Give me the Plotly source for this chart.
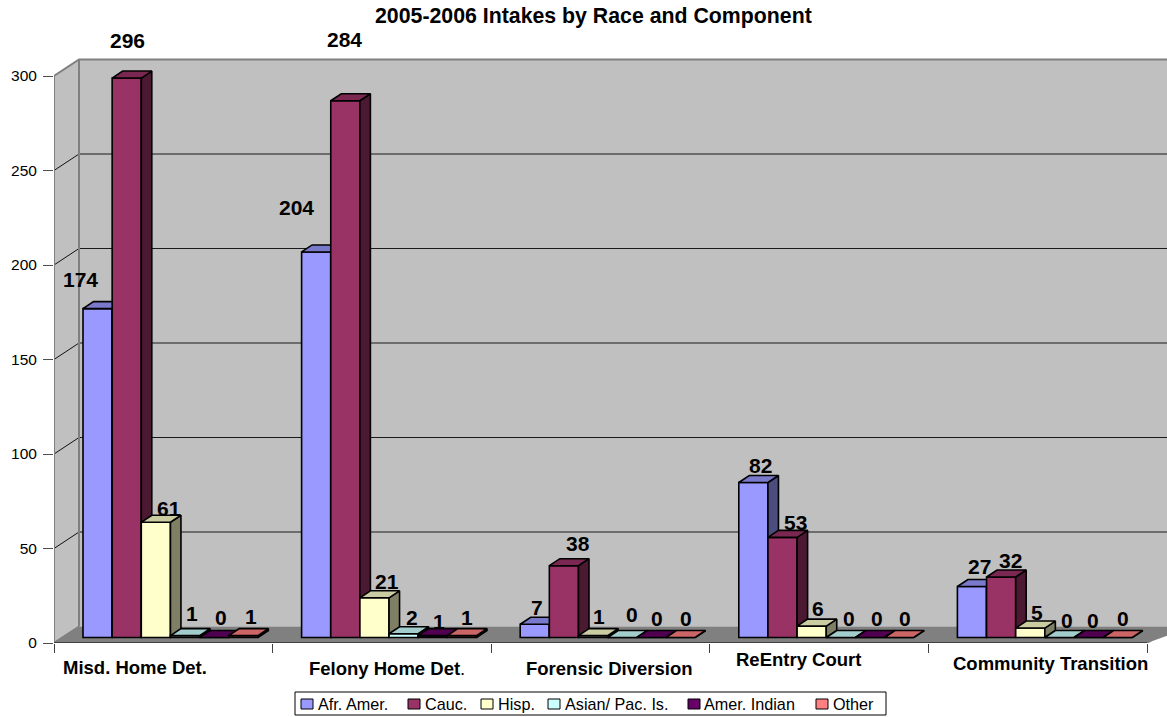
import plotly.graph_objects as go

TITLE = "2005-2006 Intakes by Race and Component"
CATEGORIES = ["Misd. Home Det.", "Felony Home Det.", "Forensic Diversion", "ReEntry Court", "Community Transition"]
SERIES = ["Afr. Amer.", "Cauc.", "Hisp.", "Asian/ Pac. Is.", "Amer. Indian", "Other"]
AFR_AMER = [174, 204, 7, 82, 27]
CAUC = [296, 284, 38, 53, 32]
HISP = [61, 21, 1, 6, 5]
ASIAN = [1, 2, 0, 0, 0]
AMER_INDIAN = [0, 1, 0, 0, 0]
OTHER = [1, 1, 0, 0, 0]
VALUES = [AFR_AMER, CAUC, HISP, ASIAN, AMER_INDIAN, OTHER]
Y_TICKS = [0, 50, 100, 150, 200, 250, 300]

COLORS = ["#9999FF", "#993366", "#FFFFCC", "#CCFFFF", "#660066", "#FF8080"]

# layout geometry (pixels)
W, H = 1167, 717
X0, Y0, TOP = 54, 643, 58
PX_PER_CAT = 218.6
PX_PER_UNIT = 1.89
WALL_DX, WALL_DY = 25 / PX_PER_CAT, 16.5 / PX_PER_UNIT
BAR_DX, BAR_DY = 10.5 / PX_PER_CAT, 7 / PX_PER_UNIT
BAR_W = 29.15 / PX_PER_CAT
GROUP_START = 29 / PX_PER_CAT
BASE = 5.5 / PX_PER_UNIT
XMAX = (W - X0) / PX_PER_CAT
YMAX = (Y0 - TOP) / PX_PER_UNIT

# data label offsets from bar top, (px right, px down), per series per category
LABEL_SHIFT = [
    [(-17, -29), (-20, -44), (2, -17), (7, -17.5), (8, -19.5)],
    [(1, -38), (-1, -61), (14, -22), (12.5, -15), (9, -17)],
    [(13, -14), (12.5, -16), (6, -19), (6, -18), (7, -16)],
    [(7, -22), (8, -16), (10, -23.5), (8, -19.5), (8, -17.5)],
    [(7, -20), (6, -14), (6, -19.5), (7, -19.5), (4, -17.5)],
    [(8, -19), (5, -18), (5.5, -19.5), (6, -19.5), (5, -19.5)],
]
CAT_LABEL_POS = [(135, 667), (387, 668), (609, 668), (798, 660), (1050, 663)]
LEGEND_POS = [(301, 317), (408, 424), (481, 497), (548, 564), (688, 703), (816, 832)]
FONT = "Liberation Sans, Arial, sans-serif"


def xp(px):
    return (px - X0) / (W - X0)


def yp(py):
    return (Y0 - py) / (Y0 - TOP)


def shade(hex_color, f):
    r, g, b = (int(hex_color[i:i + 2], 16) for i in (1, 3, 5))
    return f"rgb({int(r * f)},{int(g * f)},{int(b * f)})"


def poly(pts):
    return dict(type="path", path="M" + " L".join(f"{a},{b}" for a, b in pts) + " Z")


shapes = [
    # left wall, back wall, floor
    dict(poly([(0, 0), (WALL_DX, WALL_DY), (WALL_DX, 300 + WALL_DY), (0, 300)]),
         xref="x", yref="y", fillcolor="#C0C0C0", line=dict(width=0), layer="below"),
    dict(poly([(WALL_DX, WALL_DY), (XMAX + WALL_DX, WALL_DY), (XMAX + WALL_DX, 300 + WALL_DY), (WALL_DX, 300 + WALL_DY)]),
         xref="x", yref="y", fillcolor="#C0C0C0", line=dict(width=0), layer="below"),
    dict(poly([(0, 0), (WALL_DX, WALL_DY), (XMAX + WALL_DX, WALL_DY), (5, 0)]),
         xref="x", yref="y", fillcolor="#808080", line=dict(width=0), layer="below"),
]
for t in Y_TICKS[1:-1]:
    shapes.append(dict(type="line", xref="x", yref="y", x0=0, y0=t, x1=WALL_DX, y1=t + WALL_DY,
                       line=dict(color="#111111", width=1), layer="below"))
    shapes.append(dict(type="line", xref="x", yref="y", x0=WALL_DX, y0=t + WALL_DY, x1=XMAX, y1=t + WALL_DY,
                       line=dict(color="#1a1a1a", width=1), layer="below"))

fig = go.Figure()

# frame lines
fig.add_trace(go.Scatter(
    x=[5, 0, 0, WALL_DX, XMAX, None, WALL_DX, WALL_DX, None, 0, WALL_DX, None, 5, 5 + WALL_DX],
    y=[0, 0, 300, 300 + WALL_DY, 300 + WALL_DY, None, 300 + WALL_DY, WALL_DY, None, 0, WALL_DY, None, 0, WALL_DY],
    mode="lines", line=dict(color="#808080", width=2), cliponaxis=True,
    showlegend=False, hoverinfo="skip", zorder=-1))
fig.add_trace(go.Scatter(
    x=[0, 5], y=[0, 0], mode="lines", line=dict(color="#404040", width=2), cliponaxis=False,
    showlegend=False, hoverinfo="skip", zorder=-1))

annotations = []
for s, (name, vals, color) in enumerate(zip(SERIES, VALUES, COLORS)):
    lefts = [i + GROUP_START + s * BAR_W for i in range(len(vals))]
    fig.add_trace(go.Bar(
        x=lefts, y=vals, base=[BASE] * len(vals), offset=0, width=BAR_W, name=name,
        marker=dict(color=color, line=dict(color="black", width=1.6)),
        showlegend=False, zorder=s))
    top_x, top_y, side_x, side_y = [], [], [], []
    for l, v in zip(lefts, vals):
        r = l + BAR_W
        y = v + BASE
        top_x += [l, l + BAR_DX, r + BAR_DX, r, l, None]
        top_y += [y, y + BAR_DY, y + BAR_DY, y, y, None]
        side_x += [r, r + BAR_DX, r + BAR_DX, r, r, None]
        side_y += [BASE, BASE + BAR_DY, y + BAR_DY, y, BASE, None]
    fig.add_trace(go.Scatter(x=side_x, y=side_y, mode="lines", fill="toself", fillcolor=shade(color, 0.5),
                             line=dict(color="black", width=1.6), showlegend=False, hoverinfo="skip", zorder=s))
    fig.add_trace(go.Scatter(x=top_x, y=top_y, mode="lines", fill="toself", fillcolor=shade(color, 0.8),
                             line=dict(color="black", width=1.6), showlegend=False, hoverinfo="skip", zorder=s))
    for i, (l, v) in enumerate(zip(lefts, vals)):
        dx, dy = LABEL_SHIFT[s][i]
        annotations.append(dict(x=l + BAR_W / 2, y=v + BASE, xref="x", yref="y", text=f"<b>{v}</b>", showarrow=False,
                                xanchor="center", yanchor="middle", xshift=dx, yshift=-dy,
                                font=dict(family=FONT, size=21, color="black")))

annotations.append(dict(x=xp(593.5), y=yp(16), xref="paper", yref="paper", text=f"<b>{TITLE}</b>", showarrow=False,
                        xanchor="center", yanchor="middle", font=dict(family=FONT, size=21.3, color="black")))
for c, (px, py) in zip(CATEGORIES, CAT_LABEL_POS):
    label = f"<b>{c[:-1]}</b>." if c.startswith("Felony") else f"<b>{c}</b>"
    annotations.append(dict(x=xp(px), y=yp(py), xref="paper", yref="paper", text=label, showarrow=False,
                            xanchor="center", yanchor="middle", font=dict(family=FONT, size=18.5, color="black")))

# legend
shapes.append(dict(type="rect", xref="paper", yref="paper", x0=xp(295), x1=xp(886), y0=yp(692), y1=yp(715),
                   fillcolor="white", line=dict(color="black", width=1), layer="above"))
for name, color, (sx, tx) in zip(SERIES, COLORS, LEGEND_POS):
    shapes.append(dict(type="rect", xref="paper", yref="paper", x0=xp(sx), x1=xp(sx + 12), y0=yp(699), y1=yp(709),
                       fillcolor=color, line=dict(color="black", width=1), layer="above"))
    annotations.append(dict(x=xp(tx), y=yp(704), xref="paper", yref="paper", text=name, showarrow=False,
                            xanchor="left", yanchor="middle", xshift=-1,
                            font=dict(family=FONT, size=16.2, color="black")))

fig.update_layout(
    width=W, height=H, autosize=False, barmode="overlay",
    paper_bgcolor="white", plot_bgcolor="white", showlegend=False,
    margin=dict(l=X0, r=0, t=TOP, b=H - Y0, pad=0),
    shapes=shapes, annotations=annotations,
    font=dict(family=FONT, color="black"),
    xaxis=dict(range=[0, XMAX], tickvals=[0, 1, 2, 3, 4, 5], showticklabels=False, ticks="outside", ticklen=9,
               tickcolor="#404040", tickwidth=1, showgrid=False, zeroline=False, showline=False),
    yaxis=dict(range=[0, YMAX], tickvals=Y_TICKS, ticks="outside", ticklen=10, tickcolor="#505050", tickwidth=1,
               ticklabelstandoff=3,
               tickfont=dict(family=FONT, size=15.5, color="black"), showgrid=False, zeroline=False, showline=False),
)
fig.write_html("out.html", config={"displayModeBar": False},
               post_script="document.body.style.margin='0';document.documentElement.style.overflow='hidden';")
